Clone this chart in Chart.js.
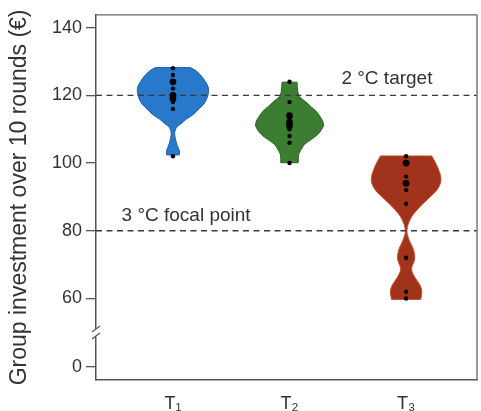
<!DOCTYPE html>
<html>
<head>
<meta charset="utf-8">
<script src="https://cdn.jsdelivr.net/npm/chart.js@4.4.1/dist/chart.umd.min.js"></script>
<style>
  html, body { margin:0; padding:0; background:#fff; }
</style>
</head>
<body>
<canvas id="chart" width="481" height="411"></canvas>
<script>
const treatments = ['T\u2081', 'T\u2082', 'T\u2083'];

// violin outlines: levels in euro and half widths (category units)
const t1Levels = [102.4, 103.5, 105.5, 107.5, 109, 110.5, 111.5, 113, 114.4, 116, 117.3, 119, 121, 122.5, 124.1, 126.1, 127.5, 128.2];
const t1Widths = [0.054, 0.056, 0.034, 0.019, 0.015, 0.030, 0.066, 0.116, 0.176, 0.222, 0.262, 0.290, 0.305, 0.302, 0.277, 0.235, 0.188, 0.149];
const t2Levels = [100.1, 102.5, 104, 105.5, 107, 108.4, 110.9, 112.4, 113.8, 115.3, 116.8, 118.2, 119.7, 121.2, 123.9];
const t2Widths = [0.075, 0.078, 0.100, 0.128, 0.188, 0.241, 0.290, 0.284, 0.260, 0.228, 0.179, 0.135, 0.085, 0.071, 0.064];
const t3Levels = [59.7, 61.9, 63.8, 66.3, 68.7, 71.7, 74.6, 77.1, 80, 83.4, 86.4, 89.3, 92.3, 95.2, 99.1, 102.1];
const t3Widths = [0.125, 0.135, 0.121, 0.074, 0.047, 0.074, 0.061, 0.028, 0.007, 0.036, 0.100, 0.185, 0.270, 0.299, 0.266, 0.220];

// group investments (dots); count > 1 means several groups share the value
const t1Values = [128, 126, 124, 122, 120, 119, 118, 116, 102];
const t1Counts = [1, 1, 2, 1, 2, 2, 1, 1, 1];
const t2Values = [124, 118, 114, 113, 112, 111, 110, 108, 106, 100];
const t2Counts = [1, 1, 2, 1, 2, 2, 1, 1, 1, 1];
const t3Values = [102, 100, 96, 94, 92, 88, 72, 62, 60];
const t3Counts = [1, 2, 1, 2, 1, 1, 1, 1, 1];

const refValues = [120, 80];
const refLabels = ['2 \u00b0C target', '3 \u00b0C focal point'];

const yTickLabels = [0, 60, 80, 100, 120, 140];
const yTitle = 'Group investment over 10 rounds (\u20ac)';

const colors = ['#2878cc', '#3b7d31', '#a1321b'];
const borders = ['#1f5f9f', '#2e6226', '#c0572f'];

// axis is broken below 60: the 0 tick is drawn where 39.7 would be
const zeroAt = 39.7;
const xMin = 0.34, xMax = 3.608;
const axisColor = '#555';
const font = '"Liberation Sans", Arial, sans-serif';

function violinPoints(center, levels, widths) {
  const right = levels.map((y, i) => ({x: center + widths[i], y}));
  const left = levels.map((y, i) => ({x: center - widths[i], y})).reverse();
  const n = right.length;
  // corners repeated so the curve keeps the flat trimmed ends
  return [right[0], ...right, right[n - 1], left[0], ...left, left[n - 1], right[0]];
}

function dots(center, values) {
  return values.map(v => ({x: center, y: v}));
}

const violinSets = [[t1Levels, t1Widths], [t2Levels, t2Widths], [t3Levels, t3Widths]];
const dotSets = [[t1Values, t1Counts], [t2Values, t2Counts], [t3Values, t3Counts]];

const datasets = [];
violinSets.forEach(([lv, wd], i) => {
  datasets.push({
    type: 'line',
    data: violinPoints(i + 1, lv, wd),
    backgroundColor: colors[i],
    borderColor: borders[i],
    borderWidth: 1,
    fill: 'shape',
    tension: 0.35,
    pointRadius: 0,
    order: 3
  });
});
refValues.forEach(v => {
  datasets.push({
    type: 'line',
    data: [{x: xMin, y: v}, {x: xMax, y: v}],
    borderColor: '#3a3a3a',
    borderWidth: 1.3,
    borderDash: [6, 4.5],
    pointRadius: 0,
    fill: false,
    order: 2
  });
});
dotSets.forEach(([vals, cnt], i) => {
  datasets.push({
    type: 'scatter',
    data: dots(i + 1, vals),
    pointRadius: cnt.map(c => c > 1 ? 3.4 : 2.2),
    pointBackgroundColor: '#000',
    pointBorderWidth: 0,
    order: 1
  });
});

const extras = {
  id: 'extras',
  afterDatasetsDraw(chart) {
    const {ctx, scales: {x, y}} = chart;
    ctx.save();
    ctx.fillStyle = '#333';
    ctx.font = '19px ' + font;
    ctx.textBaseline = 'alphabetic';
    ctx.fillText(refLabels[0], x.getPixelForValue(2.445), y.getPixelForValue(123.4));
    ctx.fillText(refLabels[1], x.getPixelForValue(0.559), y.getPixelForValue(82.9));
    ctx.restore();
  },
  afterDraw(chart) {
    const {ctx, chartArea: a, scales: {y}} = chart;
    ctx.save();
    ctx.strokeStyle = '#666';
    ctx.lineWidth = 1.3;
    ctx.beginPath();
    ctx.moveTo(a.left, a.top);
    ctx.lineTo(a.right, a.top);
    ctx.lineTo(a.right, a.bottom);
    ctx.stroke();
    // axis break marks
    const yb = y.getPixelForValue(49.8);
    ctx.fillStyle = '#fff';
    ctx.fillRect(a.left - 3, yb - 4, 6, 8);
    ctx.strokeStyle = axisColor;
    ctx.lineWidth = 1.2;
    ctx.beginPath();
    ctx.moveTo(a.left - 4, yb - 1); ctx.lineTo(a.left + 4, yb - 7);
    ctx.moveTo(a.left - 4, yb + 6); ctx.lineTo(a.left + 4, yb);
    ctx.stroke();
    ctx.restore();
  }
};

new Chart(document.getElementById('chart'), {
  type: 'scatter',
  data: {datasets},
  options: {
    responsive: false,
    animation: false,
    devicePixelRatio: 1,
    layout: {padding: {top: 13, right: 2, left: 0, bottom: 0}},
    plugins: {legend: {display: false}, tooltip: {enabled: false}},
    scales: {
      x: {
        type: 'linear', min: xMin, max: xMax,
        afterBuildTicks: s => { s.ticks = treatments.map((t, i) => ({value: i + 1})); },
        afterFit: s => { s.height = 31; },
        ticks: {
          callback: v => treatments[v - 1],
          color: '#333',
          font: {family: font, size: 18},
          padding: 5,
          autoSkip: false,
          maxRotation: 0
        },
        grid: {display: false},
        border: {display: true, color: axisColor, width: 1.5}
      },
      y: {
        type: 'linear', min: 35.9, max: 143.8,
        afterBuildTicks: s => { s.ticks = yTickLabels.map(v => ({value: v === 0 ? zeroAt : v})); },
        afterFit: s => { s.width = 96; },
        ticks: {
          callback: v => (v < 50 ? 0 : v),
          color: '#333',
          font: {family: font, size: 18},
          padding: 4,
          autoSkip: false
        },
        grid: {drawOnChartArea: false, drawTicks: true, tickLength: 10, color: axisColor, lineWidth: 1.3},
        border: {display: true, color: axisColor, width: 1.5},
        title: {
          display: true,
          text: yTitle,
          color: '#333',
          font: {family: font, size: 23},
          padding: {top: 6, bottom: 0}
        }
      }
    }
  },
  plugins: [extras]
});
</script>
</body>
</html>
